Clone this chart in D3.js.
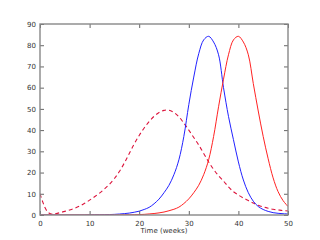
<!DOCTYPE html>
<html>
<head>
<meta charset="utf-8">
<script src="https://cdn.jsdelivr.net/npm/d3@7"></script>
<style>
  html, body { margin: 0; padding: 0; background: #fff; }
  svg text { font-family: "DejaVu Sans", sans-serif; fill: #333; }
</style>
</head>
<body>
<div id="chart"></div>
<script>
// semanas 0..50 para las dos curvas solidas
const weeks = d3.range(0, 51);

const blueSeries = [
  0, 0, 0, 0, 0, 0, 0, 0, 0, 0,
  0.05, 0.1, 0.1, 0.15, 0.2, 0.3, 0.45, 0.65, 0.9, 1.3,
  1.8, 2.6, 3.6, 5.3, 7.5, 10.5, 14, 19, 26, 37,
  52, 65, 76, 82.5, 84.2, 81.5, 75.5, 60, 46.5, 35.5,
  25, 16.5, 10.5, 6.5, 4, 2.6, 1.7, 1.1, 0.8, 0.6,
  0.5
];

const redSeries = [
  0, 0, 0, 0, 0, 0, 0, 0, 0, 0,
  0, 0, 0, 0, 0, 0, 0.05, 0.1, 0.1, 0.15,
  0.2, 0.3, 0.5, 0.7, 1.0, 1.4, 2.0, 2.7, 3.7, 5.4,
  7.6, 10.5, 14, 19, 26, 37, 51, 64, 75.5, 82.5,
  84.2, 81.5, 75.5, 62, 49, 37, 26.5, 17.5, 11, 6.8,
  4
];

// curva discontinua (con puntos extra cerca de t=0)
const dashedWeeks = [
  0, 0.5, 1, 1.5, 2, 2.5, 3, 4, 5, 6, 7, 8, 9, 10,
  11, 12, 13, 14, 15, 16, 17, 18, 19, 20,
  21, 22, 23, 24, 25, 26, 27, 28, 29, 30,
  31, 32, 33, 34, 35, 36, 37, 38, 39, 40,
  41, 42, 43, 44, 45, 46, 47, 48, 49, 50
];
const dashedSeries = [
  10, 6.5, 3.5, 1.6, 0.7, 0.4, 0.5, 1.1, 1.7, 2.4, 3.2, 4.2, 5.5, 7.0,
  8.6, 10.3, 12.3, 14.5, 17.2, 20.5, 24.5, 29, 33.5, 37.5,
  41, 44, 46.5, 48.3, 49.3, 49.4, 48.3, 46.3, 43.3, 40,
  36.5, 33, 29, 25, 21.5, 18.5, 16, 13.2, 11, 9.4,
  8, 6.8, 5.6, 4.6, 3.8, 3.2, 2.7, 2.4, 2.1, 1.9
];

const xTicks = [0, 10, 20, 30, 40, 50];
const yTicks = [0, 10, 20, 30, 40, 50, 60, 70, 80, 90];
const xLabel = 'Time (weeks)';

const W = 320, H = 240;
const m = { left: 40, right: 288, top: 24, bottom: 215 };

const x = d3.scaleLinear().domain([0, 50]).range([m.left, m.right]);
const y = d3.scaleLinear().domain([0, 90]).range([m.bottom, m.top]);

const svg = d3.select('#chart').append('svg')
    .attr('width', W).attr('height', H);

const plot = svg.append('g');
plot.append('clipPath').attr('id', 'clip')
    .append('rect')
    .attr('x', m.left).attr('y', m.top)
    .attr('width', m.right - m.left).attr('height', m.bottom - m.top);

const line = d3.line()
    .x(d => x(d[0])).y(d => y(d[1]))
    .curve(d3.curveCatmullRom.alpha(0.5));

const curves = plot.append('g').attr('clip-path', 'url(#clip)');

curves.append('path')
    .datum(dashedWeeks.map((t, i) => [t, dashedSeries[i]]))
    .attr('d', line)
    .attr('fill', 'none').attr('stroke', '#dc143c')
    .attr('stroke-width', 1.1).attr('stroke-dasharray', '4,3');

curves.append('path')
    .datum(weeks.map((t, i) => [t, blueSeries[i]]))
    .attr('d', line)
    .attr('fill', 'none').attr('stroke', '#2222ff').attr('stroke-width', 1);

curves.append('path')
    .datum(weeks.map((t, i) => [t, redSeries[i]]))
    .attr('d', line)
    .attr('fill', 'none').attr('stroke', '#ff2222').attr('stroke-width', 1);

// ejes con ticks hacia dentro en los cuatro lados
const tickLen = 4;
const axisColor = '#666';

const xB = d3.axisBottom(x).tickValues(xTicks).tickSizeInner(-tickLen).tickSizeOuter(0).tickPadding(6);
const xT = d3.axisTop(x).tickValues(xTicks).tickSizeInner(-tickLen).tickSizeOuter(0).tickFormat('');
const yL = d3.axisLeft(y).tickValues(yTicks).tickSizeInner(-tickLen).tickSizeOuter(0).tickPadding(4);
const yR = d3.axisRight(y).tickValues(yTicks).tickSizeInner(-tickLen).tickSizeOuter(0).tickFormat('');

const styleAxis = g => {
    g.select('.domain').remove();
    g.selectAll('.tick line').attr('stroke', axisColor).attr('stroke-width', 1);
    g.selectAll('.tick text')
        .style('font-size', '7px')
        .style('font-family', '"DejaVu Sans", sans-serif')
        .attr('fill', '#333');
};

plot.append('g').attr('transform', `translate(0,${m.bottom})`).call(xB).call(styleAxis);
plot.append('g').attr('transform', `translate(0,${m.top})`).call(xT).call(styleAxis);
plot.append('g').attr('transform', `translate(${m.left},0)`).call(yL).call(styleAxis);
plot.append('g').attr('transform', `translate(${m.right},0)`).call(yR).call(styleAxis);

// marco
plot.append('rect')
    .attr('x', m.left).attr('y', m.top)
    .attr('width', m.right - m.left).attr('height', m.bottom - m.top)
    .attr('fill', 'none').attr('stroke', '#888').attr('stroke-width', 1.4);

svg.append('text')
    .attr('x', (m.left + m.right) / 2).attr('y', 233)
    .attr('text-anchor', 'middle')
    .style('font-size', '7px')
    .text(xLabel);
</script>
</body>
</html>
